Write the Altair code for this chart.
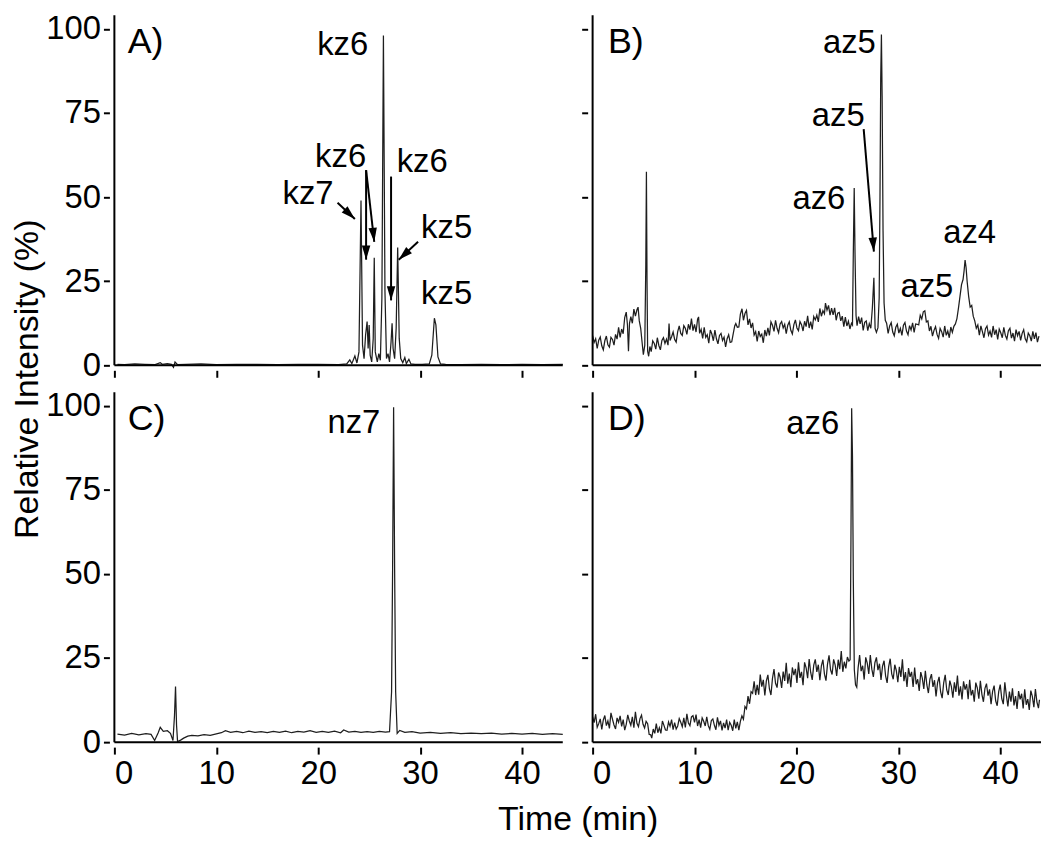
import math
import altair as alt
import pandas as pd

W, H = 451, 352
X_MAX, Y_MAX = 44, 104
ROW_GAP, COL_GAP = 27, 30
FONT = "Liberation Sans"
X_TICKS = [0, 10, 20, 30, 40]
Y_TICKS = [0, 25, 50, 75, 100]

# ---- traces: (time in min, relative intensity in %) ----
A_trace = [
    (0.3, 0.3), (1, 0.2), (2, 0.4), (3, 0.3), (4, 0.2), (4.5, 0.8), (4.7, 0.3), (5.2, 0.5),
    (5.6, 0.3), (5.8, -0.6), (5.95, 1.0), (6.2, 0.2), (7, 0.3), (8.5, 0.4), (10, 0.2), (12, 0.3),
    (14, 0.3), (16, 0.2), (18, 0.3), (20, 0.3), (22, 0.2), (22.8, 0.4), (23.1, 1.6), (23.3, 0.5),
    (23.6, 2.8), (23.8, 0.7), (24.0, 4), (24.2, 49), (24.35, 6), (24.5, 2), (24.65, 9), (24.8, 13),
    (24.9, 5), (25.0, 12), (25.1, 3), (25.25, 1), (25.4, 8), (25.5, 32), (25.6, 4), (25.8, 1),
    (25.95, 3.5), (26.1, 1.5), (26.25, 20), (26.4, 98), (26.55, 22), (26.7, 2), (26.85, 3.5),
    (27.0, 1), (27.15, 7), (27.25, 12.5), (27.35, 5), (27.5, 2), (27.65, 11), (27.8, 35), (27.95, 8),
    (28.1, 2), (28.3, 0.8), (28.5, 2.3), (28.65, 0.5), (28.9, 1.8), (29.1, 0.4), (29.5, 0.3),
    (30.2, 0.3), (30.9, 0.4), (31.15, 3), (31.4, 14), (31.55, 12), (31.75, 2.5), (32.0, 0.4),
    (32.5, 0.3), (34, 0.2), (36, 0.3), (38, 0.2), (40, 0.3), (42, 0.2), (44, 0.3),
]

B_trace = [
    (0.0, 8.8), (0.15, 6.8), (0.3, 7.9), (0.45, 5.0), (0.6, 7.5), (0.75, 8.4), (0.9, 5.8),
    (1.05, 4.6), (1.2, 7.3), (1.35, 8.7), (1.5, 6.1), (1.65, 5.4), (1.8, 8.3), (1.95, 7.7),
    (2.1, 6.0), (2.25, 9.2), (2.4, 7.8), (2.55, 11.3), (2.7, 8.3), (2.85, 10.8), (3.0, 9.4),
    (3.15, 14.2), (3.3, 15.8), (3.42, 12.0), (3.52, 4.2), (3.62, 12.5), (3.75, 14.5),
    (3.9, 12.5), (4.05, 16.7), (4.2, 14.6), (4.35, 16.5), (4.46, 17.3), (4.58, 13.2),
    (4.72, 11.0), (4.85, 7.0), (4.98, 3.2), (5.12, 6.0), (5.22, 30.0), (5.28, 57.5),
    (5.34, 25.0), (5.4, 4.2), (5.5, 2.7), (5.62, 5.6), (5.75, 4.1), (5.9, 7.3), (6.05, 6.5),
    (6.2, 4.8), (6.35, 8.2), (6.5, 5.9), (6.65, 4.6), (6.8, 7.4), (6.95, 8.2), (7.1, 6.5),
    (7.25, 7.8), (7.4, 6.0), (7.5, 12.4), (7.6, 7.4), (7.75, 8.5), (7.9, 9.9), (8.05, 7.7),
    (8.2, 6.9), (8.35, 10.0), (8.5, 11.7), (8.65, 9.5), (8.8, 8.9), (8.95, 11.8), (9.1, 11.0),
    (9.25, 9.2), (9.4, 12.2), (9.55, 10.6), (9.7, 13.9), (9.85, 10.3), (10.0, 12.2), (10.15, 9.9),
    (10.3, 13.7), (10.4, 14.4), (10.5, 9.5), (10.65, 10.7), (10.8, 8.0), (10.95, 11.3),
    (11.1, 8.3), (11.25, 9.1), (11.4, 6.6), (11.55, 10.5), (11.7, 9.3), (11.85, 7.3),
    (12.0, 10.5), (12.15, 7.9), (12.3, 6.4), (12.45, 8.9), (12.6, 9.5), (12.75, 7.4),
    (12.9, 8.4), (13.05, 5.5), (13.2, 7.9), (13.35, 9.1), (13.5, 6.8), (13.65, 7.0),
    (13.8, 9.4), (13.95, 11.8), (14.05, 12.4), (14.2, 11.3), (14.35, 11.4), (14.5, 15.2),
    (14.66, 16.8), (14.8, 13.4), (14.95, 15.4), (15.1, 16.3), (15.25, 12.0), (15.4, 13.8),
    (15.55, 11.1), (15.7, 12.6), (15.85, 9.0), (16.0, 10.0), (16.15, 7.1), (16.3, 10.2),
    (16.45, 8.6), (16.6, 9.3), (16.75, 6.7), (16.9, 10.5), (17.05, 8.7), (17.2, 11.1),
    (17.35, 8.9), (17.5, 12.9), (17.65, 11.9), (17.8, 10.1), (17.95, 13.4), (18.1, 11.0),
    (18.25, 9.7), (18.4, 12.3), (18.55, 13.0), (18.7, 11.1), (18.85, 12.2), (19.0, 9.4),
    (19.15, 11.9), (19.3, 12.9), (19.45, 10.4), (19.6, 9.3), (19.75, 12.1), (19.9, 13.5),
    (20.05, 11.1), (20.2, 10.3), (20.35, 13.0), (20.5, 12.1), (20.65, 10.2), (20.8, 13.1),
    (20.95, 11.5), (21.1, 14.7), (21.25, 11.1), (21.4, 13.0), (21.55, 10.7), (21.7, 14.5),
    (21.85, 13.5), (22.0, 14.9), (22.15, 12.9), (22.3, 16.9), (22.45, 14.6), (22.6, 16.2),
    (22.75, 15.3), (22.85, 18.5), (23.0, 16.4), (23.15, 17.8), (23.3, 14.9), (23.45, 17.0),
    (23.6, 15.0), (23.75, 17.1), (23.9, 13.4), (24.05, 15.5), (24.2, 15.7), (24.35, 13.2),
    (24.5, 14.6), (24.65, 11.5), (24.8, 14.3), (24.95, 11.7), (25.1, 13.1), (25.25, 10.8),
    (25.4, 12.5), (25.5, 12.0), (25.58, 33.0), (25.67, 52.7), (25.75, 33.0), (25.85, 14.8),
    (25.95, 11.8), (26.1, 14.5), (26.25, 12.3), (26.4, 14.2), (26.55, 10.4), (26.7, 12.8),
    (26.85, 13.2), (27.0, 10.3), (27.15, 12.4), (27.3, 11.0), (27.45, 17.0), (27.6, 26.0),
    (27.72, 11.0), (27.85, 9.8), (28.0, 11.2), (28.12, 20.0), (28.2, 50.0), (28.27, 85.0),
    (28.34, 98.3), (28.41, 80.0), (28.5, 40.0), (28.6, 18.5), (28.72, 13.4), (28.85, 12.5),
    (29.0, 9.5), (29.15, 11.7), (29.3, 12.7), (29.45, 9.9), (29.6, 8.8), (29.75, 11.3),
    (29.9, 12.2), (30.05, 9.6), (30.2, 11.0), (30.35, 8.9), (30.5, 11.9), (30.65, 12.7),
    (30.8, 10.2), (30.95, 9.1), (31.1, 11.8), (31.25, 10.5), (31.4, 12.6), (31.55, 9.8),
    (31.7, 12.3), (31.85, 12.2), (32.0, 12.0), (32.15, 14.9), (32.3, 13.8), (32.45, 15.9),
    (32.6, 16.2), (32.75, 12.9), (32.9, 13.2), (33.05, 10.2), (33.2, 11.6), (33.35, 8.7),
    (33.5, 10.4), (33.65, 11.5), (33.8, 9.2), (33.95, 8.0), (34.1, 11.0), (34.25, 10.0),
    (34.4, 8.4), (34.55, 11.7), (34.7, 8.9), (34.85, 10.2), (35.0, 8.2), (35.15, 11.4),
    (35.3, 9.8), (35.45, 11.6), (35.6, 12.3), (35.75, 13.9), (35.9, 17.0), (36.05, 20.5),
    (36.2, 24.0), (36.35, 25.5), (36.45, 28.0), (36.55, 31.3), (36.65, 29.0), (36.75, 25.0),
    (36.9, 20.5), (37.05, 17.3), (37.2, 17.8), (37.35, 14.6), (37.5, 13.2), (37.65, 11.0),
    (37.8, 12.0), (37.95, 9.0), (38.1, 11.7), (38.25, 10.0), (38.4, 8.2), (38.55, 10.9),
    (38.7, 11.7), (38.85, 9.0), (39.0, 10.2), (39.15, 8.3), (39.3, 11.7), (39.45, 9.1),
    (39.6, 10.6), (39.75, 7.7), (39.9, 10.8), (40.05, 9.7), (40.2, 8.2), (40.35, 11.3),
    (40.5, 8.9), (40.65, 7.8), (40.8, 10.3), (40.95, 11.0), (41.1, 8.1), (41.25, 9.6),
    (41.4, 7.2), (41.55, 10.6), (41.7, 8.8), (41.85, 10.1), (42.0, 7.4), (42.15, 9.5),
    (42.3, 10.6), (42.45, 7.9), (42.6, 7.0), (42.75, 9.6), (42.9, 8.8), (43.05, 7.2),
    (43.2, 10.1), (43.35, 7.9), (43.5, 9.7), (43.65, 6.9), (43.8, 8.7),
]

C_trace = [
    (0.3, 2.4), (1.0, 2.1), (1.7, 2.6), (2.4, 2.2), (3.1, 2.5), (3.6, 2.3), (3.95, 0.5), (4.3, 2.8),
    (4.5, 4.4), (4.8, 3.2), (5.2, 3.4), (5.5, 2.6), (5.75, 0.5), (5.9, 8), (6.0, 16.5), (6.1, 5),
    (6.2, 0.2), (6.5, 0.6), (6.8, 1.2), (7.2, 1.8), (7.6, 2.0), (8.2, 1.9), (8.8, 2.2), (9.4, 2.0),
    (9.9, 2.4), (10.5, 2.8), (10.9, 3.4), (11.4, 2.9), (12.0, 3.2), (12.6, 2.8), (13.2, 3.3),
    (13.8, 2.9), (14.4, 3.1), (15.0, 2.8), (15.6, 3.2), (16.2, 2.9), (16.8, 3.3), (17.4, 2.8),
    (18.0, 3.2), (18.6, 3.0), (19.2, 3.4), (19.8, 2.9), (20.4, 3.2), (21.0, 2.9), (21.6, 3.3),
    (22.2, 2.8), (22.5, 3.6), (23.0, 3.0), (23.6, 3.2), (24.2, 2.9), (24.8, 3.1), (25.4, 2.9),
    (26.0, 3.2), (26.6, 3.0), (27.0, 3.1), (27.2, 15), (27.3, 51), (27.4, 99.5), (27.5, 51),
    (27.6, 15), (27.75, 2.6), (28.0, 3.5), (28.5, 2.9), (29.2, 3.1), (30.0, 2.7), (31, 2.9),
    (32, 2.6), (33, 2.8), (34, 2.5), (35, 2.7), (36, 2.5), (37, 2.7), (38, 2.4), (39, 2.6),
    (40, 2.4), (41, 2.6), (42, 2.3), (43, 2.5), (44, 2.3),
]

D_trace = [
    (0.0, 7.5), (0.15, 5.8), (0.3, 8.3), (0.45, 4.4), (0.6, 5.5), (0.75, 6.9), (0.9, 3.8),
    (1.05, 6.6), (1.2, 7.9), (1.35, 4.9), (1.5, 6.3), (1.65, 4.1), (1.8, 8.7), (1.95, 6.8),
    (2.1, 5.1), (2.25, 3.9), (2.4, 7.2), (2.55, 5.9), (2.7, 7.8), (2.85, 4.7), (3.0, 6.7),
    (3.15, 3.6), (3.3, 5.3), (3.45, 8.1), (3.6, 6.3), (3.75, 5.0), (3.9, 7.5), (4.05, 4.3),
    (4.2, 9.0), (4.35, 5.6), (4.5, 4.6), (4.65, 7.0), (4.8, 8.0), (4.95, 5.3), (5.1, 4.2),
    (5.25, 6.2), (5.4, 5.5), (5.55, 2.3), (5.7, 2.2), (5.8, 1.2), (5.95, 3.9), (6.1, 2.6),
    (6.25, 5.5), (6.4, 2.8), (6.55, 4.3), (6.7, 2.6), (6.85, 6.3), (7.0, 5.0), (7.15, 3.6),
    (7.3, 3.5), (7.45, 6.0), (7.6, 4.7), (7.75, 6.7), (7.9, 3.7), (8.05, 5.8), (8.2, 3.9),
    (8.35, 4.8), (8.5, 7.0), (8.65, 5.9), (8.8, 4.6), (8.95, 7.2), (9.1, 4.4), (9.25, 8.4),
    (9.4, 5.7), (9.55, 4.9), (9.7, 7.5), (9.85, 7.9), (10.0, 5.9), (10.15, 8.2), (10.3, 4.8),
    (10.45, 6.7), (10.6, 4.3), (10.75, 7.2), (10.9, 6.2), (11.05, 4.8), (11.2, 7.5),
    (11.35, 4.9), (11.5, 3.8), (11.65, 6.4), (11.8, 6.9), (11.95, 5.0), (12.1, 3.7),
    (12.25, 7.4), (12.4, 5.0), (12.55, 6.3), (12.7, 3.5), (12.85, 5.7), (13.0, 4.2),
    (13.15, 6.7), (13.3, 3.6), (13.45, 5.9), (13.6, 5.0), (13.75, 3.4), (13.9, 6.7),
    (14.05, 4.1), (14.2, 6.0), (14.35, 3.6), (14.5, 6.2), (14.65, 7.8), (14.8, 6.8),
    (14.95, 10.6), (15.1, 9.9), (15.25, 13.7), (15.4, 11.4), (15.55, 15.0), (15.7, 14.5),
    (15.85, 18.1), (16.0, 14.0), (16.15, 17.0), (16.3, 14.1), (16.45, 20.1), (16.6, 16.5),
    (16.75, 18.5), (16.9, 13.9), (17.05, 18.2), (17.2, 20.0), (17.35, 15.8), (17.5, 14.0),
    (17.65, 19.0), (17.8, 21.7), (17.95, 17.5), (18.1, 16.2), (18.25, 20.7), (18.4, 19.3),
    (18.55, 16.1), (18.7, 21.0), (18.85, 18.2), (19.0, 23.6), (19.15, 17.4), (19.3, 20.4),
    (19.45, 16.3), (19.6, 22.2), (19.75, 19.9), (19.9, 21.8), (20.05, 17.6), (20.2, 23.7),
    (20.35, 19.1), (20.5, 20.9), (20.65, 16.9), (20.8, 23.7), (20.95, 22.1), (21.1, 19.0),
    (21.25, 24.7), (21.4, 20.7), (21.55, 18.5), (21.7, 22.9), (21.85, 24.6), (22.0, 20.9),
    (22.15, 23.0), (22.3, 18.4), (22.45, 22.7), (22.6, 24.5), (22.75, 20.2), (22.9, 18.3),
    (23.05, 23.2), (23.2, 25.8), (23.35, 21.5), (23.5, 20.1), (23.65, 24.6), (23.8, 23.0),
    (23.95, 19.7), (24.1, 24.5), (24.25, 21.7), (24.4, 27.1), (24.55, 20.9), (24.7, 23.9),
    (24.85, 21.9), (25.0, 25.3), (25.15, 24.1), (25.27, 24.5), (25.35, 60.0), (25.42, 99.2),
    (25.5, 85.0), (25.58, 48.8), (25.68, 21.6), (25.8, 17.0), (25.92, 16.3), (26.05, 22.0),
    (26.2, 25.9), (26.35, 21.1), (26.5, 22.7), (26.65, 18.6), (26.8, 25.2), (26.95, 23.5),
    (27.1, 20.3), (27.25, 25.9), (27.4, 21.7), (27.55, 19.4), (27.7, 23.6), (27.85, 25.2),
    (28.0, 21.4), (28.15, 23.3), (28.3, 18.5), (28.45, 22.6), (28.6, 24.2), (28.75, 19.7),
    (28.9, 17.6), (29.05, 22.4), (29.2, 24.8), (29.35, 20.3), (29.5, 18.7), (29.65, 23.0),
    (29.8, 21.3), (29.95, 17.8), (30.1, 22.4), (30.25, 19.4), (30.4, 24.6), (30.55, 18.1),
    (30.7, 20.8), (30.85, 16.4), (31.0, 22.0), (31.15, 19.4), (31.3, 20.9), (31.45, 16.4),
    (31.6, 22.2), (31.75, 17.2), (31.9, 18.7), (32.05, 15.2), (32.2, 20.8), (32.35, 19.0),
    (32.5, 15.8), (32.65, 21.2), (32.8, 17.0), (32.95, 14.6), (33.1, 18.7), (33.25, 20.2),
    (33.4, 16.4), (33.55, 18.4), (33.7, 13.6), (33.85, 17.7), (34.0, 19.4), (34.15, 14.9),
    (34.3, 13.1), (34.45, 17.6), (34.6, 20.0), (34.75, 15.5), (34.9, 14.0), (35.05, 18.3),
    (35.2, 16.6), (35.35, 13.2), (35.5, 17.8), (35.65, 14.9), (35.8, 19.8), (35.95, 13.8),
    (36.1, 16.6), (36.25, 12.7), (36.4, 18.1), (36.55, 15.6), (36.7, 17.2), (36.85, 12.8),
    (37.0, 18.5), (37.15, 13.9), (37.3, 15.5), (37.45, 12.0), (37.6, 17.7), (37.75, 16.1),
    (37.9, 12.9), (38.05, 18.2), (38.2, 14.2), (38.35, 12.0), (38.5, 16.0), (38.65, 17.4),
    (38.8, 13.8), (38.95, 15.7), (39.1, 11.3), (39.25, 15.1), (39.4, 16.8), (39.55, 12.3),
    (39.7, 10.8), (39.85, 15.0), (40.0, 17.1), (40.15, 12.9), (40.3, 11.3), (40.45, 17.8),
    (40.6, 13.9), (40.75, 10.6), (40.9, 15.0), (41.05, 12.0), (41.2, 16.0), (41.35, 10.9),
    (41.5, 13.7), (41.65, 9.9), (41.8, 15.2), (41.95, 12.7), (42.1, 14.4), (42.25, 10.0),
    (42.4, 15.7), (42.55, 11.1), (42.7, 12.8), (42.85, 9.6), (43.0, 15.3), (43.15, 13.6),
    (43.3, 10.4), (43.45, 15.8), (43.6, 11.9), (43.75, 10.1), (43.85, 12.6),
]

# ---- annotations: (text, time, intensity) ----
A_labels = [("kz6", 22.4, 95.3), ("kz6", 22.2, 62.0), ("kz7", 19.0, 51.0),
            ("kz6", 30.2, 60.5), ("kz5", 32.6, 40.7), ("kz5", 32.6, 21.2)]
B_labels = [("az5", 25.2, 95.8), ("az5", 24.1, 74.0), ("az6", 22.2, 49.3),
            ("az5", 32.8, 23.2), ("az4", 37.0, 39.2)]
C_labels = [("nz7", 23.5, 94.7)]
D_labels = [("az6", 21.6, 94.4)]

# arrows: (from time, from intensity, to time, to intensity)
A_arrows = [(21.9, 48.3, 23.6, 43.5), (24.7, 58.0, 24.7, 31.4), (24.7, 58.0, 25.5, 36.7),
            (27.15, 56.1, 27.15, 19.3), (29.8, 36.7, 27.9, 31.4)]
B_arrows = [(26.6, 70.2, 27.6, 33.8)]
C_arrows = []
D_arrows = []

panel_letters = [("A)", 1.3, 96.2), ("B)", 1.5, 96.2), ("C)", 1.3, 96.0), ("D)", 1.5, 96.0)]

xs = alt.Scale(domain=[0, X_MAX], nice=False, zero=False)
ys = alt.Scale(domain=[0, Y_MAX], nice=False, zero=False)

AX_COMMON = dict(domain=False, grid=False, ticks=True, tickColor="black", tickWidth=2,
                 offset=5, labelFont=FONT, labelFontSize=33, labelColor="black",
                 titleFont=FONT, titleFontSize=34, titleFontWeight="normal",
                 titleColor="black")


def x_axis(show_labels, title):
    kw = dict(AX_COMMON)
    kw.update(values=X_TICKS, labels=show_labels, tickSize=7, labelPadding=4, title=title)
    if title:
        kw.update(titleX=W + COL_GAP / 2, titlePadding=12)
    return alt.Axis(**kw)


def y_axis(show_labels, title):
    kw = dict(AX_COMMON)
    kw.update(values=Y_TICKS, labels=show_labels, tickSize=6, labelPadding=3, title=title)
    if title:
        kw.update(titleY=H + ROW_GAP / 2, titlePadding=1)
    return alt.Axis(**kw)


def panel(trace, labels, arrows, letter, show_x, show_y, xtitle="", ytitle=""):
    xa = x_axis(show_x, xtitle)
    ya = y_axis(show_y, ytitle)
    df = pd.DataFrame(trace, columns=["t", "v"])
    line = alt.Chart(df).mark_line(color="#1e1e1e", strokeWidth=1.25).encode(
        x=alt.X("t:Q", scale=xs, axis=xa), y=alt.Y("v:Q", scale=ys, axis=ya))

    frame = pd.DataFrame({"t": [0], "v": [0], "t_end": [X_MAX], "v_end": [Y_MAX]})
    yline = alt.Chart(frame).mark_rule(color="black", strokeWidth=2).encode(
        x=alt.X("t:Q", scale=xs, axis=xa), y=alt.Y("v:Q", scale=ys, axis=ya), y2="v_end:Q")
    xline = alt.Chart(frame).mark_rule(color="black", strokeWidth=2).encode(
        x=alt.X("t:Q", scale=xs, axis=xa), x2="t_end:Q", y=alt.Y("v:Q", scale=ys, axis=ya))

    layers = [line, yline, xline]

    ldf = pd.DataFrame(labels, columns=["label", "t", "v"])
    layers.append(alt.Chart(ldf).mark_text(font=FONT, fontSize=33, color="black",
                                           align="center", baseline="middle").encode(
        x=alt.X("t:Q", scale=xs, axis=xa), y=alt.Y("v:Q", scale=ys, axis=ya), text="label:N"))

    pl = pd.DataFrame([letter], columns=["label", "t", "v"])
    layers.append(alt.Chart(pl).mark_text(font=FONT, fontSize=36, color="black",
                                          align="left", baseline="middle").encode(
        x=alt.X("t:Q", scale=xs, axis=xa), y=alt.Y("v:Q", scale=ys, axis=ya), text="label:N"))

    if arrows:
        rows = []
        for t1, v1, t2, v2 in arrows:
            dx = (t2 - t1) * W / X_MAX
            dy = -(v2 - v1) * H / Y_MAX
            ang = math.degrees(math.atan2(dx, -dy)) % 360
            rows.append({"t": t1, "v": v1, "t2": t2, "v2": v2, "angle": ang})
        adf = pd.DataFrame(rows)
        layers.append(alt.Chart(adf).mark_rule(color="black", strokeWidth=2).encode(
            x=alt.X("t:Q", scale=xs, axis=xa), y=alt.Y("v:Q", scale=ys, axis=ya),
            x2="t2:Q", y2="v2:Q"))
        layers.append(alt.Chart(adf).mark_point(
            shape="M0,0L0.6,2L-0.6,2Z", filled=True, size=200, color="black", opacity=1,
            strokeWidth=0).encode(
            x=alt.X("t2:Q", scale=xs, axis=xa), y=alt.Y("v2:Q", scale=ys, axis=ya),
            angle=alt.Angle("angle:Q", scale=None)))

    return alt.layer(*layers).properties(width=W, height=H)


pA = panel(A_trace, A_labels, A_arrows, panel_letters[0], False, True,
           ytitle="Relative Intensity (%)")
pB = panel(B_trace, B_labels, B_arrows, panel_letters[1], False, False)
pC = panel(C_trace, C_labels, C_arrows, panel_letters[2], True, True, xtitle="Time (min)")
pD = panel(D_trace, D_labels, D_arrows, panel_letters[3], True, False)

chart = alt.concat(pA, pB, pC, pD, columns=2,
                   spacing={"row": ROW_GAP, "column": COL_GAP},
                   bounds="flush").properties(
    padding={"left": 2, "top": 2, "right": 0, "bottom": 0}
).configure_view(strokeWidth=0)

chart.save("out.html", embed_options={"renderer": "svg", "actions": False})
